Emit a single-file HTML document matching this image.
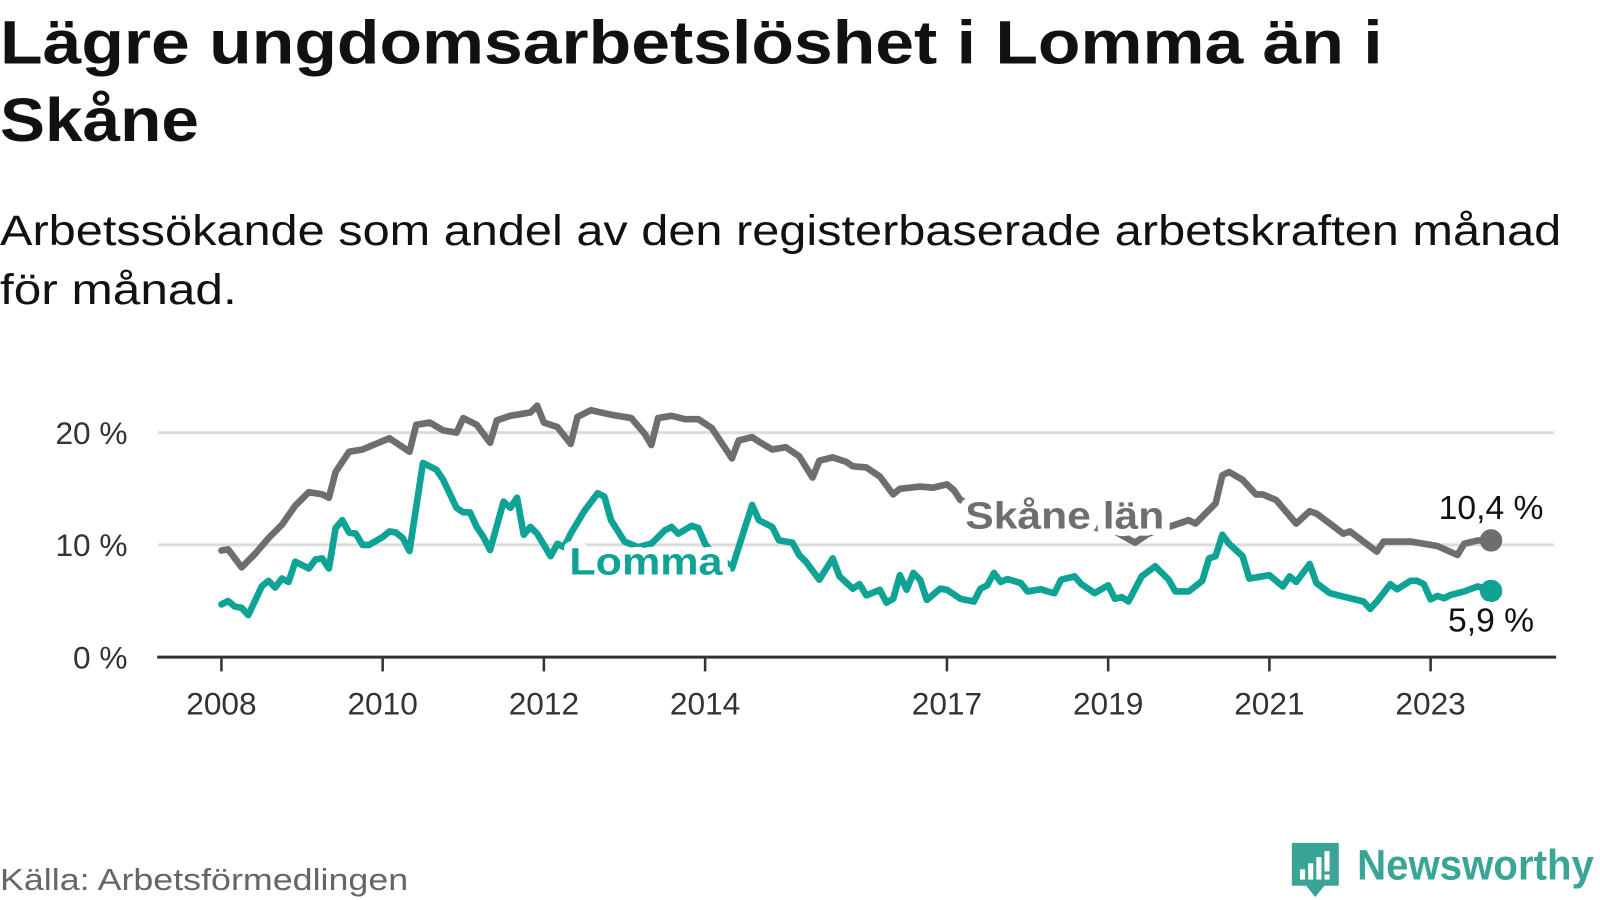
<!DOCTYPE html>
<html><head><meta charset="utf-8"><style>
html,body{margin:0;padding:0;background:#fff;width:1600px;height:900px;overflow:hidden}
svg{display:block}
text{font-family:"Liberation Sans","DejaVu Sans",sans-serif}
.halo{paint-order:stroke;stroke:#fff;stroke-width:14px;stroke-linejoin:round}
</style></head><body>
<svg id="chart" width="1600" height="900" viewBox="0 0 1568 882" xmlns="http://www.w3.org/2000/svg">
<text x="0" y="62" font-size="60" font-weight="bold" fill="#111" textLength="1355" lengthAdjust="spacingAndGlyphs">Lägre ungdomsarbetslöshet i Lomma än i</text>
<text x="0" y="138" font-size="60" font-weight="bold" fill="#111" textLength="195" lengthAdjust="spacingAndGlyphs">Skåne</text>
<text x="0" y="240" font-size="42" fill="#111" textLength="1530" lengthAdjust="spacingAndGlyphs">Arbetssökande som andel av den registerbaserade arbetskraften månad</text>
<text x="0" y="298" font-size="42" fill="#111" textLength="232" lengthAdjust="spacingAndGlyphs">för månad.</text>
<g id="grid"></g>
<g id="axes"></g>
<g id="series"></g>
<g id="labels"></g>
<text x="0" y="872" font-size="30" fill="#666" textLength="400" lengthAdjust="spacingAndGlyphs">Källa: Arbetsförmedlingen</text>
<g>
<path d="M1266 826 h46 v42 h-14 l-9 11 l-9 -11 h-14 z" fill="#3aa597"/>
<rect x="1274" y="852" width="5" height="10" fill="#fff"/><rect x="1282" y="846" width="5" height="16" fill="#fff"/><rect x="1290" y="840" width="5" height="22" fill="#fff"/><rect x="1298" y="834" width="5" height="20" fill="#fff"/><rect x="1298" y="857" width="5" height="5" fill="#fff"/>
<text x="1330" y="862" font-size="42" font-weight="bold" fill="#3aa597" textLength="232" lengthAdjust="spacingAndGlyphs">Newsworthy</text>
</g>
</svg>
<script>
const yTicks = [0, 10, 20];
const yearTicks = [2008, 2010, 2012, 2014, 2017, 2019, 2021, 2023];
const skaneMonths = [0,1,3,5,7,9,11,13,15,16,17,19,21,23,25,26,28,29,31,33,35,36,38,40,41,43,46,47,48,50,52,53,55,58,61,63,64,65,67,69,71,73,76,77,79,80,82,84,86,88,89,91,93,94,96,98,100,101,104,106,108,109,110,113,119,126,133,136,138,142,144,145,148,149,150,152,154,155,157,160,162,163,165,167,168,172,173,177,179,181,184,185,187,189];
const skaneValues = [9.5,9.6,8.0,9.2,10.6,11.8,13.5,14.7,14.5,14.2,16.5,18.3,18.5,19.0,19.5,19.1,18.3,20.7,20.9,20.2,20.0,21.3,20.7,19.1,21.1,21.5,21.8,22.4,20.9,20.5,19.0,21.4,22.0,21.6,21.3,19.9,18.9,21.3,21.5,21.2,21.2,20.4,17.7,19.3,19.6,19.2,18.5,18.7,17.9,16.0,17.5,17.8,17.4,17.0,16.9,16.1,14.5,15.0,15.2,15.1,15.4,14.9,14.0,13.3,12.5,12.0,11.2,10.2,11.0,11.8,12.2,11.9,13.7,16.2,16.5,15.8,14.5,14.5,14.0,11.9,13.0,12.8,11.9,11.0,11.2,9.4,10.3,10.3,10.1,9.9,9.1,10.1,10.4,10.4];
const lommaMonths = [0,1,2,3,4,6,7,8,9,10,11,13,14,15,16,17,18,19,20,21,22,24,25,26,27,28,30,32,33,35,36,37,38,39,40,42,43,44,45,46,47,49,50,51,52,54,56,57,58,60,62,64,66,67,68,70,71,72,73,74,75,76,79,80,82,83,85,86,87,89,91,92,94,95,96,98,99,100,101,102,103,104,105,107,108,110,112,113,114,115,116,117,119,120,122,123,124,125,127,128,130,132,133,134,135,137,139,141,142,144,146,147,148,149,150,152,153,156,158,159,160,162,163,165,167,170,171,172,174,175,177,178,179,180,181,182,183,185,187,189];
const lommaValues = [4.7,5.0,4.5,4.4,3.75,6.3,6.8,6.2,7.0,6.7,8.5,7.9,8.7,8.8,7.9,11.5,12.2,11.1,11.0,10.0,10.0,10.7,11.2,11.1,10.6,9.45,17.3,16.7,15.8,13.3,12.9,12.9,11.6,10.7,9.55,13.85,13.3,14.2,10.9,11.6,11.0,9.0,10.1,9.8,11.0,13.0,14.6,14.3,12.2,10.3,9.8,10.1,11.3,11.6,11.0,11.7,11.5,10.1,9.3,8.8,8.5,7.9,13.55,12.2,11.6,10.4,10.2,9.1,8.5,6.9,8.8,7.2,6.1,6.5,5.5,6.0,4.85,5.2,7.3,6.0,7.5,6.9,5.1,6.1,6.0,5.2,4.95,6.1,6.4,7.5,6.7,6.95,6.6,5.85,6.05,5.85,5.7,6.9,7.2,6.5,5.7,6.4,5.2,5.35,4.95,7.2,8.1,6.9,5.85,5.85,6.8,8.8,9.0,10.9,10.1,9.0,7.0,7.3,6.3,7.2,6.7,8.3,6.6,5.7,5.4,4.95,4.3,4.95,6.5,6.05,6.8,6.8,6.5,5.15,5.45,5.25,5.55,5.85,6.3,5.9];
const startYear = 2008;
const NS = 'http://www.w3.org/2000/svg';
function xM(m){ return 217 + m * (79 / 12); }
function xYear(y){ return xM((y - startYear) * 12); }
function yV(v){ return 644 - v * 11; }
function mk(tag, attrs, parent){ const e = document.createElementNS(NS, tag); for (const k in attrs) e.setAttribute(k, attrs[k]); parent.appendChild(e); return e; }
const grid = document.getElementById('grid'), axes = document.getElementById('axes'), series = document.getElementById('series'), labels = document.getElementById('labels');
yTicks.forEach(function(t){
  if (t > 0) {
    const l = mk('line', {x1:155, x2:1523, y1:yV(t), y2:yV(t), stroke:'#dcdcdc', 'stroke-width':3}, grid);
    
    
  }
  const tx = mk('text', {x:125, y:yV(t)+11, 'text-anchor':'end', 'font-size':31, fill:'#333'}, axes);
  tx.textContent = t + ' %';
  
  
});
const ax = mk('line', {x1:154, x2:1525, y1:yV(0), y2:yV(0), stroke:'#333', 'stroke-width':3}, axes);


yearTicks.forEach(function(y){
  const tk = mk('line', {x1:xYear(y), x2:xYear(y), y1:yV(0), y2:yV(0)+14, stroke:'#333', 'stroke-width':2.5}, axes);
  
  
  const tx = mk('text', {x:xYear(y), y:700, 'text-anchor':'middle', 'font-size':31, fill:'#333'}, axes);
  tx.textContent = y;
  
  
});
function drawLine(ms, vs, color, name){
  const d = ms.map(function(m, i){ return (i ? 'L' : 'M') + xM(m).toFixed(1) + ' ' + yV(vs[i]).toFixed(1); }).join(' ');
  const p = mk('path', {d:d, fill:'none', stroke:color, 'stroke-width':6.5, 'stroke-linejoin':'round', 'stroke-linecap':'round'}, series);
  
  
  const n = ms.length - 1;
  const c = mk('circle', {cx:xM(ms[n]), cy:yV(vs[n]), r:11, fill:color}, series);
  
  
  return [xM(ms[n]), yV(vs[n])];
}
const sEnd = drawLine(skaneMonths, skaneValues, '#6e6d72', 'skane');
const lEnd = drawLine(lommaMonths, lommaValues, '#0fa396', 'lomma');
const sl = mk('text', {x:946, y:518, 'font-size':37, 'font-weight':'bold', fill:'#6e6d72', class:'halo', textLength:195, lengthAdjust:'spacingAndGlyphs'}, labels);
sl.textContent = 'Skåne län';


const ll = mk('text', {x:558, y:563, 'font-size':37, 'font-weight':'bold', fill:'#0fa396', class:'halo', textLength:150, lengthAdjust:'spacingAndGlyphs'}, labels);
ll.textContent = 'Lomma';


const sv = mk('text', {x:sEnd[0], y:sEnd[1]-21, 'text-anchor':'middle', 'font-size':33, fill:'#111', class:'halo'}, labels);
sv.textContent = skaneValues[skaneValues.length-1].toFixed(1).replace('.', ',') + ' %';


const lv = mk('text', {x:lEnd[0], y:lEnd[1]+40, 'text-anchor':'middle', 'font-size':33, fill:'#111', class:'halo'}, labels);
lv.textContent = lommaValues[lommaValues.length-1].toFixed(1).replace('.', ',') + ' %';


</script>
</body></html>
